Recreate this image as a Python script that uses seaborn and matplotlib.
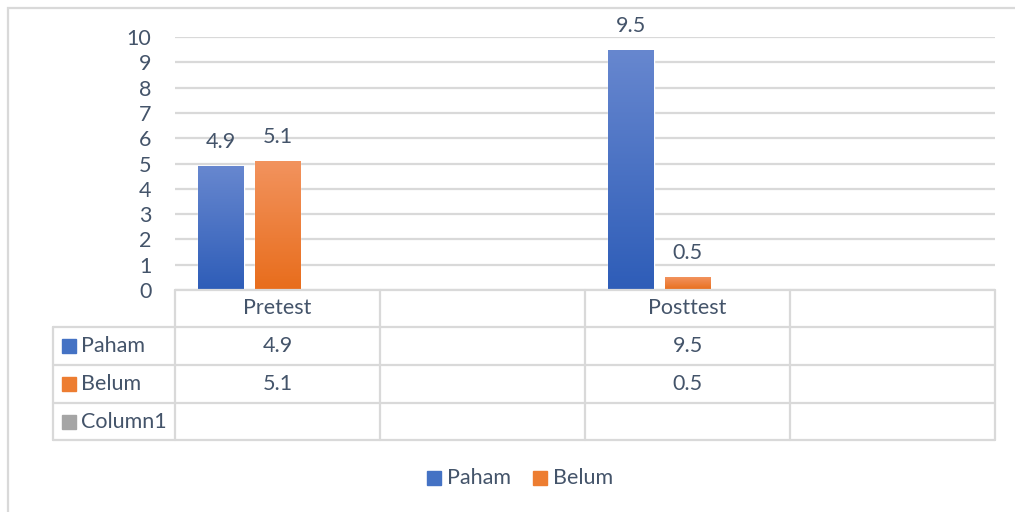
import numpy as np
import pandas as pd
import matplotlib
matplotlib.use("Agg")
import matplotlib.pyplot as plt
from matplotlib.colors import LinearSegmentedColormap
from matplotlib.lines import Line2D
from matplotlib.patches import Rectangle
import seaborn as sns

# data
categories = ["Pretest", "", "Posttest", ""]
series = ["Paham", "Belum", "Column1"]
paham = [4.9, None, 9.5, None]
belum = [5.1, None, 0.5, None]
series_colors = {"Paham": "#4472C4", "Belum": "#ED7D31", "Column1": "#A5A5A5"}
grad = {"Paham": ("#2E5DB8", "#6787CF"), "Belum": ("#E86D1C", "#F2935E")}
yticks = list(range(0, 11))

W, H = 1015, 512
TXT = "#44546A"
GRID = "#D9D9D9"
FS = 15.5

cat_keys = [f"c{i}" for i in range(len(categories))]
rows = []
for k, p, b in zip(cat_keys, paham, belum):
    if p is not None:
        rows.append({"cat": k, "series": "Paham", "value": p})
    if b is not None:
        rows.append({"cat": k, "series": "Belum", "value": b})
df = pd.DataFrame(rows)

sns.set_theme(style="white")
plt.rcParams["font.family"] = ["Lato", "DejaVu Sans"]

fig = plt.figure(figsize=(W / 100, H / 100), dpi=100)


def fx(x):
    return x / W


def fy(y):
    return 1 - y / H


ax = fig.add_axes([fx(175), fy(290), fx(995) - fx(175), fy(37) - fy(290)])
sns.barplot(data=df, x="cat", y="value", hue="series", order=cat_keys,
            hue_order=series, palette=series_colors, width=0.83, gap=0.19,
            legend=False, ax=ax, saturation=1)

ax.set_xlim(-0.5, len(categories) - 0.5)
ax.set_ylim(0, 10)
ax.set_yticks(yticks)
ax.set_yticklabels([str(t) for t in yticks], fontsize=FS, color=TXT)
ax.tick_params(axis="y", length=0, pad=17)
ax.set_xticks([])
ax.set_xlabel("")
ax.set_ylabel("")
for s in ax.spines.values():
    s.set_visible(False)
ax.yaxis.grid(True, color=GRID, linewidth=1.6)
ax.set_axisbelow(True)

# gradient fill + value labels
bars = [p for p in ax.patches if p.get_height() > 0]
for p in bars:
    fc = p.get_facecolor()
    name = "Paham" if abs(fc[0] - 0x44 / 255) < 0.05 else "Belum"
    cmap = LinearSegmentedColormap.from_list(name, grad[name])
    x0, w, h = p.get_x(), p.get_width(), p.get_height()
    img = ax.imshow(np.linspace(0, 1, 100).reshape(-1, 1), cmap=cmap,
                    extent=[x0, x0 + w, 0, h], origin="lower", aspect="auto",
                    zorder=p.get_zorder() + 0.1)
    img.set_clip_path(p)
    ax.annotate(f"{h:g}", (x0 + w / 2, h), xytext=(0, 10),
                textcoords="offset points", ha="center", va="bottom",
                fontsize=FS, color=TXT)
ax.set_xlim(-0.5, len(categories) - 0.5)
ax.set_ylim(0, 10)

# data table
x_edges = [175, 380, 585, 790, 995]
y_rows = [290, 327, 365, 403, 440]
lw = 1.6
for x in x_edges:
    fig.add_artist(Line2D([fx(x), fx(x)], [fy(290), fy(440)], color=GRID, lw=lw))
fig.add_artist(Line2D([fx(53), fx(53)], [fy(327), fy(440)], color=GRID, lw=lw))
fig.add_artist(Line2D([fx(175), fx(995)], [fy(290), fy(290)], color=GRID, lw=lw))
for y in y_rows[1:]:
    fig.add_artist(Line2D([fx(53), fx(995)], [fy(y), fy(y)], color=GRID, lw=lw))

for i, c in enumerate(categories):
    cx = (x_edges[i] + x_edges[i + 1]) / 2
    fig.text(fx(cx), fy(308), c, ha="center", va="center", fontsize=FS, color=TXT)

table_vals = {"Paham": paham, "Belum": belum, "Column1": [None] * 4}
for r, name in enumerate(series):
    cy = (y_rows[r + 1] + y_rows[r + 2]) / 2
    fig.add_artist(Rectangle((fx(62), fy(cy + 7)), fx(14), 14 / H,
                             color=series_colors[name]))
    fig.text(fx(81), fy(cy), name, ha="left", va="center", fontsize=FS, color=TXT)
    for i, v in enumerate(table_vals[name]):
        if v is not None:
            cx = (x_edges[i] + x_edges[i + 1]) / 2
            fig.text(fx(cx), fy(cy), f"{v:g}", ha="center", va="center",
                     fontsize=FS, color=TXT)

# legend
for name, lx in [("Paham", 427), ("Belum", 533)]:
    fig.add_artist(Rectangle((fx(lx), fy(485)), fx(14), 14 / H,
                             color=series_colors[name]))
    fig.text(fx(lx + 20), fy(478), name, ha="left", va="center", fontsize=FS, color=TXT)

# chart frame
fig.add_artist(Rectangle((fx(8), fy(530)), fx(1040), 522 / H, fill=False,
                         edgecolor=GRID, lw=1.6))

fig.savefig("out.png", dpi=100, facecolor="white")
